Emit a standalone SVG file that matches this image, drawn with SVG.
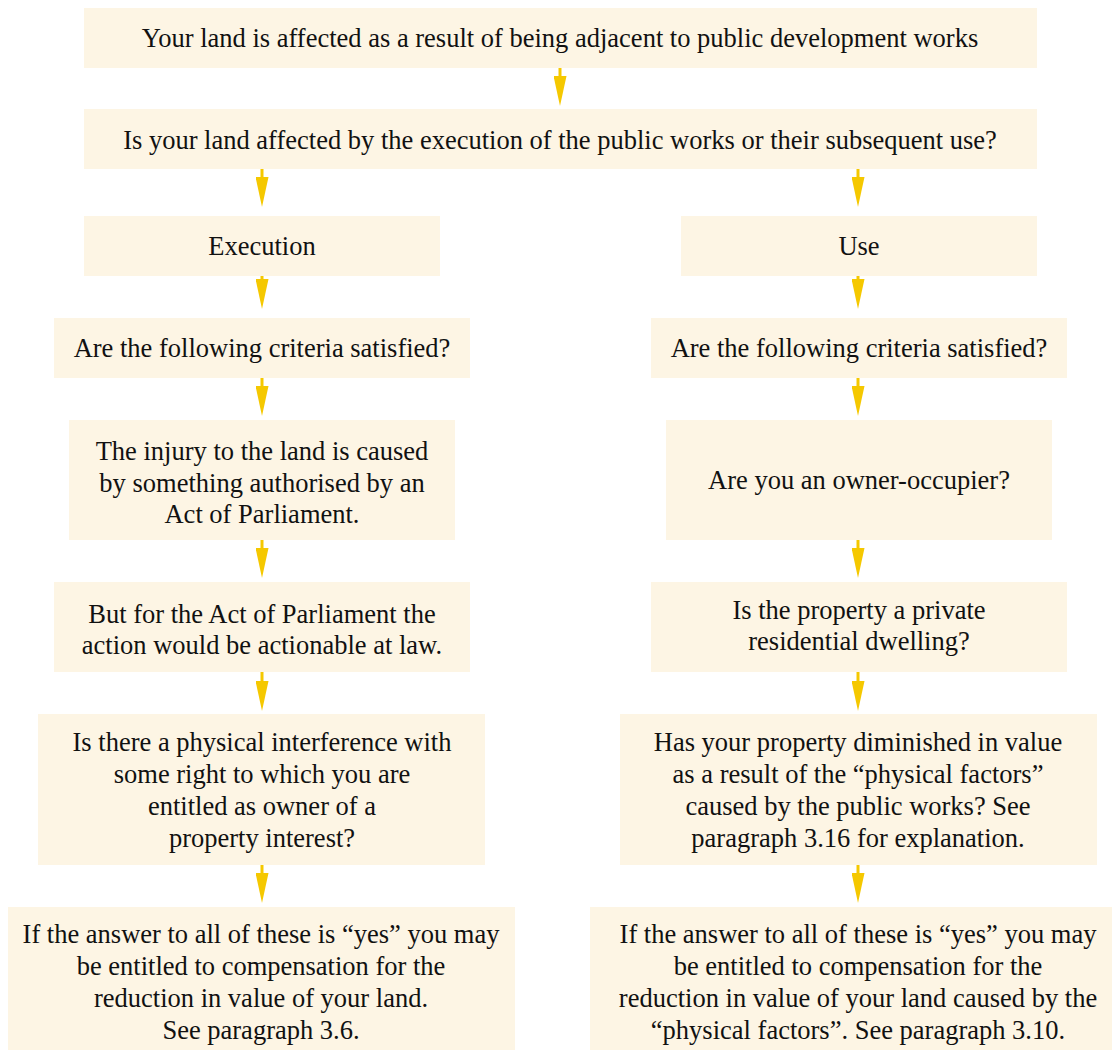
<svg xmlns="http://www.w3.org/2000/svg" width="1112" height="1050" viewBox="0 0 1112 1050">
<style>
.box{fill:#FDF5E4;}
text{font-family:"Liberation Serif","Times New Roman",serif;font-size:26.5px;fill:#111;text-anchor:middle;}
.con line{stroke:#F5C800;stroke-width:3;}
</style>
<defs>
<marker id="ah" markerWidth="30" markerHeight="13" refX="2" refY="6.5" orient="auto" markerUnits="userSpaceOnUse" viewBox="0 0 30 13">
<path d="M0,0 L30,6.5 L0,13 Z" fill="#F5C800"/>
</marker>
</defs>
<rect width="1112" height="1050" fill="#fff"/>
<g class="con">
<line x1="560" y1="68" x2="560" y2="78" marker-end="url(#ah)"/>
<line x1="262" y1="169" x2="262" y2="179" marker-end="url(#ah)"/>
<line x1="858" y1="169" x2="858" y2="179" marker-end="url(#ah)"/>
<line x1="262" y1="276" x2="262" y2="281" marker-end="url(#ah)"/>
<line x1="858" y1="276" x2="858" y2="281" marker-end="url(#ah)"/>
<line x1="262" y1="378" x2="262" y2="388" marker-end="url(#ah)"/>
<line x1="858" y1="378" x2="858" y2="388" marker-end="url(#ah)"/>
<line x1="262" y1="540" x2="262" y2="550" marker-end="url(#ah)"/>
<line x1="858" y1="540" x2="858" y2="550" marker-end="url(#ah)"/>
<line x1="262" y1="672" x2="262" y2="683" marker-end="url(#ah)"/>
<line x1="858" y1="672" x2="858" y2="683" marker-end="url(#ah)"/>
<line x1="262" y1="865" x2="262" y2="875" marker-end="url(#ah)"/>
<line x1="858" y1="865" x2="858" y2="875" marker-end="url(#ah)"/>
</g>
<g id="n1"><rect class="box" x="84" y="8" width="953" height="60"/><text x="560" y="47">Your land is affected as a result of being adjacent to public development works</text></g>
<g id="n2"><rect class="box" x="84" y="109" width="953" height="60"/><text x="560" y="149">Is your land affected by the execution of the public works or their subsequent use?</text></g>
<g id="n3"><rect class="box" x="84" y="216" width="356" height="60"/><text x="262" y="255">Execution</text></g>
<g id="n4"><rect class="box" x="681" y="216" width="356" height="60"/><text x="859" y="255">Use</text></g>
<g id="n5"><rect class="box" x="54" y="318" width="416" height="60"/><text x="262" y="357">Are the following criteria satisfied?</text></g>
<g id="n6"><rect class="box" x="651" y="318" width="416" height="60"/><text x="859" y="357">Are the following criteria satisfied?</text></g>
<g id="n7"><rect class="box" x="69" y="420" width="386" height="120"/><text x="262" y="460">The injury to the land is caused</text><text x="262" y="491.5">by something authorised by an</text><text x="262" y="523">Act of Parliament.</text></g>
<g id="n8"><rect class="box" x="666" y="420" width="386" height="120"/><text x="859" y="489">Are you an owner-occupier?</text></g>
<g id="n9"><rect class="box" x="54" y="582" width="416" height="90"/><text x="262" y="623">But for the Act of Parliament the</text><text x="262" y="654">action would be actionable at law.</text></g>
<g id="n10"><rect class="box" x="651" y="582" width="416" height="90"/><text x="859" y="619">Is the property a private</text><text x="859" y="650">residential dwelling?</text></g>
<g id="n11"><rect class="box" x="38" y="714" width="447" height="151"/><text x="262" y="751">Is there a physical interference with</text><text x="262" y="783">some right to which you are</text><text x="262" y="815">entitled as owner of a</text><text x="262" y="847">property interest?</text></g>
<g id="n12"><rect class="box" x="620" y="714" width="477" height="151"/><text x="858" y="751">Has your property diminished in value</text><text x="858" y="783">as a result of the “physical factors”</text><text x="858" y="815">caused by the public works? See</text><text x="858" y="847">paragraph 3.16 for explanation.</text></g>
<g id="n13"><rect class="box" x="8" y="907" width="507" height="143"/><text x="261" y="943">If the answer to all of these is “yes” you may</text><text x="261" y="975">be entitled to compensation for the</text><text x="261" y="1007">reduction in value of your land.</text><text x="261" y="1039">See paragraph 3.6.</text></g>
<g id="n14"><rect class="box" x="590" y="907" width="522" height="143"/><text x="858" y="943">If the answer to all of these is “yes” you may</text><text x="858" y="975">be entitled to compensation for the</text><text x="858" y="1007">reduction in value of your land caused by the</text><text x="858" y="1039">“physical factors”. See paragraph 3.10.</text></g>
</svg>
